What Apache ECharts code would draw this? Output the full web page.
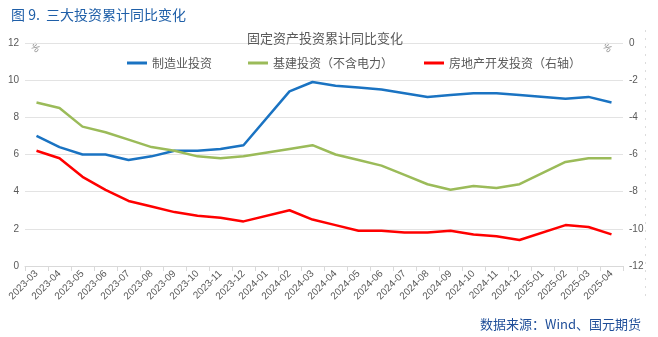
<!DOCTYPE html>
<html>
<head>
<meta charset="utf-8">
<script src="https://cdn.jsdelivr.net/npm/echarts@6/dist/echarts.min.js"></script>
<style>
  html, body { margin: 0; padding: 0; background: #fff; }
  #chart { width: 658px; height: 337px; }
</style>
</head>
<body>
<div id="chart"></div>
<script>
// Monthly categories (January is not published, so those months are left empty)
const months = [
  '2023-03','2023-04','2023-05','2023-06','2023-07','2023-08','2023-09','2023-10','2023-11','2023-12',
  '2024-01','2024-02','2024-03','2024-04','2024-05','2024-06','2024-07','2024-08','2024-09','2024-10',
  '2024-11','2024-12','2025-01','2025-02','2025-03','2025-04'
];

// Cumulative YoY growth, %
const manufacturing = [7.0, 6.4, 6.0, 6.0, 5.7, 5.9, 6.2, 6.2, 6.3, 6.5,
  null, 9.4, 9.9, 9.7, 9.6, 9.5, 9.3, 9.1, 9.2, 9.3, 9.3, 9.2, null, 9.0, 9.1, 8.8];
const infrastructure = [8.8, 8.5, 7.5, 7.2, 6.8, 6.4, 6.2, 5.9, 5.8, 5.9,
  null, 6.3, 6.5, 6.0, 5.7, 5.4, 4.9, 4.4, 4.1, 4.3, 4.2, 4.4, null, 5.6, 5.8, 5.8];
const realEstate = [-5.8, -6.2, -7.2, -7.9, -8.5, -8.8, -9.1, -9.3, -9.4, -9.6,
  null, -9.0, -9.5, -9.8, -10.1, -10.1, -10.2, -10.2, -10.1, -10.3, -10.4, -10.6, null, -9.8, -9.9, -10.3];

const seriesNames = ['制造业投资', '基建投资（不含电力）', '房地产开发投资（右轴）'];
const seriesColors = ['#1a73c2', '#9bbb59', '#ff0000'];
const legendLeft = [122, 243, 419];

const chart = echarts.init(document.getElementById('chart'));
const axisText = { color: '#595959', fontSize: 10, fontFamily: 'Liberation Sans, Arial, sans-serif' };

// one legend block per series so each entry sits at its own position on a single row
const legends = seriesNames.map((name, i) => ({
  top: 52,
  left: legendLeft[i],
  itemWidth: 20,
  itemHeight: 3,
  icon: 'rect',
  textStyle: { color: '#595959', fontSize: 12, fontFamily: 'Noto Sans CJK SC' },
  data: [name]
}));

chart.setOption({
  animation: false,
  backgroundColor: '#ffffff',
  title: [
    {
      text: '图 9.  三大投资累计同比变化',
      left: 6, top: 3,
      textStyle: { color: '#1f5fa8', fontSize: 14, fontWeight: 'normal', fontFamily: 'Noto Sans CJK SC' }
    },
    {
      text: '固定资产投资累计同比变化',
      left: 320, top: 27, textAlign: 'center',
      textStyle: { color: '#595959', fontSize: 13, fontWeight: 'normal', fontFamily: 'Noto Sans CJK SC' }
    },
    {
      text: '数据来源：Wind、国元期货',
      right: 12, top: 313,
      textStyle: { color: '#1f4e99', fontSize: 13, fontWeight: 'normal', fontFamily: 'Noto Sans CJK SC' }
    }
  ],
  legend: legends,
  grid: { left: 25, right: 35, top: 43, bottom: 71, containLabel: false },
  xAxis: {
    type: 'category',
    data: months,
    boundaryGap: true,
    axisLine: { lineStyle: { color: '#d9d9d9' } },
    axisTick: { show: true, alignWithLabel: false, lineStyle: { color: '#d9d9d9' } },
    axisLabel: Object.assign({ rotate: 45, interval: 0, fontSize: 9, margin: 6 }, axisText)
  },
  yAxis: [
    {
      type: 'value', min: 0, max: 12, interval: 2,
      axisLine: { show: false },
      axisTick: { show: false },
      axisLabel: Object.assign({ margin: 6 }, axisText),
      splitLine: { lineStyle: { color: '#e3e3e3' } }
    },
    {
      type: 'value', min: -12, max: 0, interval: 2,
      axisLine: { show: false },
      axisTick: { show: false },
      axisLabel: Object.assign({ margin: 6 }, axisText),
      splitLine: { show: false }
    }
  ],
  series: [
    {
      name: seriesNames[0], type: 'line', data: manufacturing, yAxisIndex: 0,
      connectNulls: true, showSymbol: false, symbol: 'none',
      itemStyle: { color: seriesColors[0] },
      lineStyle: { color: seriesColors[0], width: 2.5 }
    },
    {
      name: seriesNames[1], type: 'line', data: infrastructure, yAxisIndex: 0,
      connectNulls: true, showSymbol: false, symbol: 'none',
      itemStyle: { color: seriesColors[1] },
      lineStyle: { color: seriesColors[1], width: 2.5 }
    },
    {
      name: seriesNames[2], type: 'line', data: realEstate, yAxisIndex: 1,
      connectNulls: true, showSymbol: false, symbol: 'none',
      itemStyle: { color: seriesColors[2] },
      lineStyle: { color: seriesColors[2], width: 2.5 }
    }
  ],
  graphic: [
    // unit marks at the top of each value axis
    {
      type: 'text', x: 35, y: 48, rotation: -Math.PI / 4, originX: 0, originY: 0,
      style: { text: '%', fill: '#8c8c8c', fontSize: 10, align: 'center', verticalAlign: 'middle' }
    },
    {
      type: 'text', x: 607, y: 48, rotation: -Math.PI / 4,
      style: { text: '%', fill: '#8c8c8c', fontSize: 10, align: 'center', verticalAlign: 'middle' }
    },
    {
      type: 'line',
      shape: { x1: 645.5, y1: 30, x2: 645.5, y2: 300 },
      style: { stroke: '#dcdcdc', lineWidth: 1, lineDash: [2, 6] }
    }
  ]
});
</script>
</body>
</html>
